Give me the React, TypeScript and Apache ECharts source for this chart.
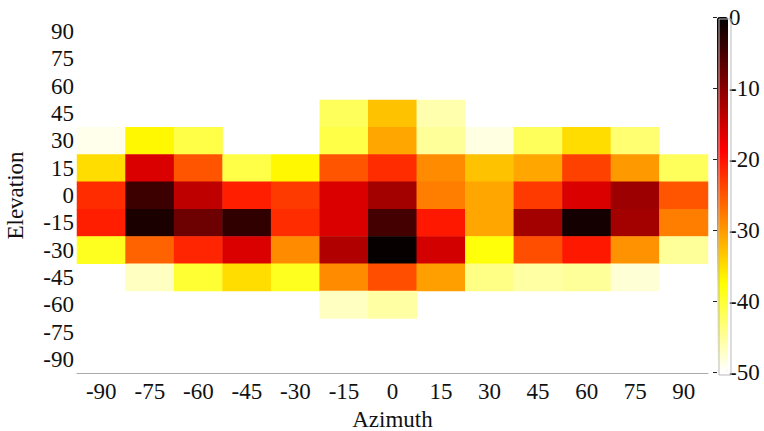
import React, { useEffect, useRef } from "react";
import * as echarts from "echarts";

const azimuth = ["-90", "-75", "-60", "-45", "-30", "-15", "0", "15", "30", "45", "60", "75", "90"];
const elevation = ["-90", "-75", "-60", "-45", "-30", "-15", "0", "15", "30", "45", "60", "75", "90"];

// attenuation values per elevation row (null = no measurement)
const elev45 = [null, null, null, null, null, -42, -33, -46, null, null, null, null, null];
const elev30 = [-49, -37, -41, null, null, -41, -31, -45, -48.5, -42, -35, -43, null];
const elev15 = [-35, -16, -25, -41, -37, -25, -22, -29, -33, -31, -23.5, -30, -42];
const elev0 = [-22, -4.5, -14, -21, -23, -16, -12, -28, -31, -23, -16, -11.5, -25];
const elevM15 = [-21, -2, -8, -3.5, -22, -16, -5, -20.5, -31, -12, -1.5, -12, -28];
const elevM30 = [-39, -26, -21.5, -16, -29, -13, -0.5, -15.5, -38, -24.5, -20.5, -29.5, -45];
const elevM45 = [null, -47, -40, -35, -39, -29, -24.5, -30.5, -44, -45.5, -45, -48, null];
const elevM60 = [null, null, null, null, null, -47, -45.5, null, null, null, null, null, null];

const rows: [string, (number | null)[]][] = [
  ["45", elev45],
  ["30", elev30],
  ["15", elev15],
  ["0", elev0],
  ["-15", elevM15],
  ["-30", elevM30],
  ["-45", elevM45],
  ["-60", elevM60],
];

const hotColors = ["#ffffff", "#ffff80", "#ffff00", "#ffaa00", "#ff5500", "#ff0000", "#aa0000", "#550000", "#000000"];

const FONT = "'Times New Roman', 'Liberation Serif', serif";
const FS = 23;

export default function App() {
  const ref = useRef<HTMLDivElement>(null);
  useEffect(() => {
    if (!ref.current) return;
    const chart = echarts.init(ref.current, null, { renderer: "svg" });
    const data: [string, string, number][] = [];
    rows.forEach(([el, vals]) => {
      vals.forEach((v, i) => {
        if (v !== null) data.push([azimuth[i], el, v]);
      });
    });
    chart.setOption({
      animation: false,
      textStyle: { fontFamily: FONT },
      grid: [
        { left: 77, right: 56, top: 18, bottom: 58, containLabel: false, outerBoundsMode: "none" },
        { left: 717, top: 17, width: 11, height: 355, containLabel: false, outerBoundsMode: "none" },
      ],
      xAxis: [
        {
          type: "category",
          data: azimuth,
          name: "Azimuth",
          nameLocation: "middle",
          nameGap: 35,
          nameTextStyle: { fontSize: FS, color: "#111", fontFamily: FONT },
          axisLine: { lineStyle: { color: "#aaa", width: 1 } },
          axisTick: { show: false },
          axisLabel: { fontSize: FS, color: "#111", margin: 7, interval: 0, fontFamily: FONT },
          splitLine: { show: false },
        },
        { gridIndex: 1, type: "value", show: false },
      ],
      yAxis: [
        {
          type: "category",
          data: elevation,
          name: "Elevation",
          nameLocation: "middle",
          nameGap: 50,
          nameTextStyle: { fontSize: FS, color: "#111", fontFamily: FONT },
          axisLine: { show: false },
          axisTick: { show: false },
          axisLabel: { fontSize: FS, color: "#111", margin: 3, interval: 0, fontFamily: FONT },
          splitLine: { show: false },
        },
        {
          gridIndex: 1,
          type: "value",
          min: -50,
          max: 0,
          interval: 10,
          position: "right",
          axisLine: { show: false },
          axisTick: { show: true, inside: true, length: 4, lineStyle: { color: "#222" } },
          axisLabel: { fontSize: FS, color: "#111", margin: 1, fontFamily: FONT },
          splitLine: { show: false },
          z: 10,
        },
      ],
      visualMap: {
        type: "continuous",
        min: -50,
        max: 0,
        left: 717,
        top: 17,
        itemWidth: 11,
        itemHeight: 355,
        padding: 0,
        calculable: false,
        showLabel: false,
        text: null,
        seriesIndex: 0,
        inRange: { color: hotColors },
      },
      graphic: [
        {
          type: "rect",
          left: 716.5,
          top: 16.5,
          shape: { width: 12, height: 356 },
          style: { fill: "none", stroke: "#bbb", lineWidth: 1 },
          z: 100,
        },
      ],
      series: [
        {
          type: "heatmap",
          data,
          itemStyle: { borderWidth: 0 },
        },
      ],
    });
    return () => chart.dispose();
  }, []);
  return <div ref={ref} style={{ position: "fixed", left: 0, top: 0, width: 764, height: 431, background: "#fff" }} />;
}
